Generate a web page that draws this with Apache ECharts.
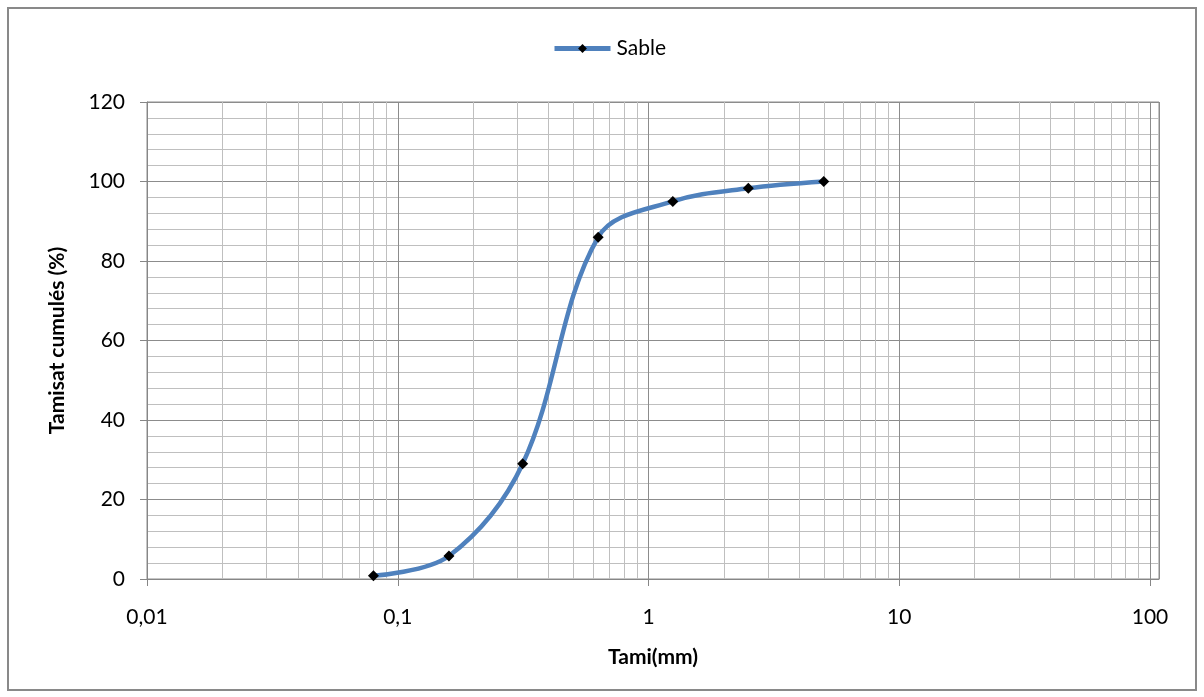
<!DOCTYPE html>
<html>
<head>
<meta charset="utf-8">
<script src="https://cdn.jsdelivr.net/npm/echarts@6/dist/echarts.min.js"></script>
<style>
    html, body { margin: 0; padding: 0; background: #fff; }
    #chart { width: 1204px; height: 697px; }
</style>
</head>
<body>
<div id="chart"></div>
<script>
// 체 크기 (mm) / 통과 누적 백분율
const sieveSizes = [0.08, 0.16, 0.315, 0.63, 1.25, 2.5, 5];
const passingPct = [0.8, 5.8, 29, 86, 95, 98.3, 100];
const seriesName = "Sable";

// 로그 축 보조 격자 (각 자릿수의 2~9배)
const decades = [0.01, 0.1, 1, 10];
const multipliers = [2, 3, 4, 5, 6, 7, 8, 9];
const minorX = [];
decades.forEach(d => multipliers.forEach(m => minorX.push(+(d * m).toPrecision(3))));

const FONT = "Lato, 'Open Sans', sans-serif";

const chart = echarts.init(document.getElementById("chart"));

chart.setOption({
    animation: false,
    textStyle: { fontFamily: FONT },
    graphic: [{
        type: "rect",
        shape: { x: 8, y: 8, width: 1188, height: 682 },
        style: { fill: "none", stroke: "#898989", lineWidth: 2 },
        silent: true
    }],
    legend: {
        top: 33,
        left: 547,
        data: [seriesName],
        itemWidth: 56,
        itemHeight: 11,
        itemGap: 4,
        itemStyle: { color: "#000" },
        lineStyle: { color: "#4f81bd", width: 5 },
        textStyle: { fontSize: 21, color: "#000", fontFamily: FONT, padding: [0, 0, 0, 1] }
    },
    grid: {
        left: 147,
        right: 45,
        top: 102,
        bottom: 118,
        show: true,
        borderColor: "#8c8c8c",
        borderWidth: 1
    },
    xAxis: {
        type: "log",
        logBase: 10,
        min: 0.01,
        max: 108.6,
        name: "Tami(mm)",
        nameLocation: "middle",
        nameGap: 68,
        nameTextStyle: { fontSize: 21, fontWeight: "bold", color: "#000", fontFamily: FONT },
        axisLine: { show: true, lineStyle: { color: "#868686", width: 1 } },
        axisTick: { show: true, length: 7, lineStyle: { color: "#868686" } },
        axisLabel: {
            fontSize: 21,
            color: "#000",
            margin: 28,
            showMaxLabel: false,
            formatter: v => String(+v.toPrecision(3)).replace(".", ",")
        },
        splitLine: { show: true, lineStyle: { color: "#8c8c8c", width: 1 } },
        minorTick: { show: false },
        minorSplitLine: { show: false }
    },
    yAxis: {
        type: "value",
        min: 0,
        max: 120,
        interval: 20,
        name: "Tamisat cumulés (%)",
        nameLocation: "middle",
        nameGap: 79,
        nameTextStyle: { fontSize: 21, fontWeight: "bold", color: "#000", fontFamily: FONT },
        axisLine: { show: true, lineStyle: { color: "#868686", width: 1 } },
        axisTick: { show: true, length: 7, lineStyle: { color: "#868686" } },
        axisLabel: { fontSize: 21, color: "#000", margin: 22 },
        splitLine: { show: true, lineStyle: { color: "#8c8c8c", width: 1 } },
        minorTick: { show: false, splitNumber: 5 },
        minorSplitLine: { show: true, lineStyle: { color: "#bfbfbf", width: 1 } }
    },
    series: [
        {
            // 보조 세로 격자선
            name: "minorGrid",
            type: "line",
            data: [],
            z: 1,
            silent: true,
            markLine: {
                silent: true,
                symbol: "none",
                label: { show: false },
                lineStyle: { color: "#bfbfbf", width: 1, type: "solid" },
                data: minorX.map(v => ({ xAxis: v }))
            }
        },
        {
            name: seriesName,
            type: "line",
            z: 5,
            data: sieveSizes.map((s, i) => [s, passingPct[i]]),
            smooth: 0.35,
            symbol: "diamond",
            symbolSize: 11,
            itemStyle: { color: "#000" },
            lineStyle: { color: "#4f81bd", width: 4.5 }
        }
    ]
});
</script>
</body>
</html>
